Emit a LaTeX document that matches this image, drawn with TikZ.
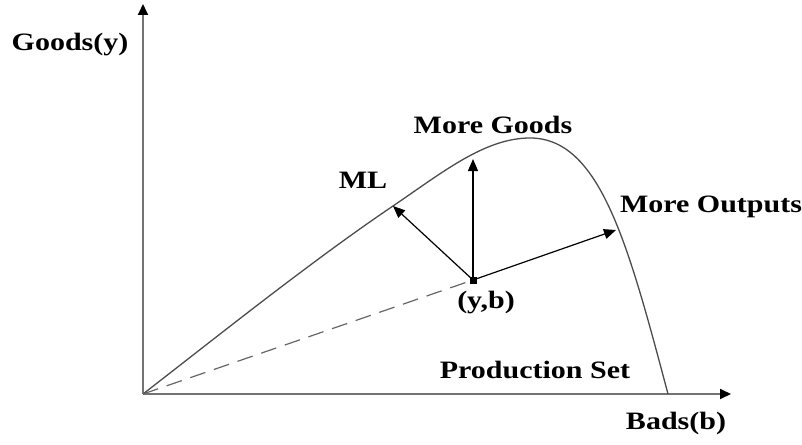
\documentclass[tikz,border=0pt]{standalone}
\usepackage{fontspec}
\setmainfont[FakeStretch=1.2]{Liberation Serif}
\usetikzlibrary{arrows.meta}

\begin{document}
\begin{tikzpicture}[x=1pt, y=-1pt,
    lbl/.style={font=\bfseries\fontsize{25}{30}\selectfont, anchor=base, inner sep=0pt},
    axis/.style={black!55, line width=1.8pt, -{Triangle[length=11pt, width=10pt, color=black]}},
    vec/.style={line width=1.2pt, -{Triangle[length=12pt, width=10pt]}}]
    \useasboundingbox (0,0) rectangle (802,444);

    % axes
    \coordinate (O) at (143,394);
    \coordinate (ytop) at (143,4);
    \coordinate (xend) at (731,394);
    \draw[axis] (O) -- (ytop);
    \draw[axis] (O) -- (xend);

    % production frontier
    \coordinate (peak) at (530,138);
    \coordinate (zero) at (668,394);
    \coordinate (ml) at (393,206);
    \draw[black!70, line width=1.3pt]
        (O) .. controls (223,332) and (313,260) .. (ml)
            .. controls (443,172) and (485,138) .. (peak)
            .. controls (600,138) and (628,243.6) .. (zero);

    % observed point and directions
    \coordinate (yb) at (473,280);
    \coordinate (mg) at (473,159);
    \coordinate (mo) at (616,230);
    \draw[black!60, line width=1.2pt, dash pattern=on 16pt off 9pt] (O) -- (yb);
    \draw[vec] (yb) -- (mg);
    \draw[vec] (yb) -- (ml);
    \draw[vec] (yb) -- (mo);
    \node[fill, inner sep=0pt, minimum size=7pt] (ybdot) at (yb) {};

    % labels
    \node[lbl] (goods) at (70,50) {Goods(y)};
    \node[lbl] (bads) at (676,429) {Bads(b)};
    \node[lbl] (moregoods) at (493,133) {More Goods};
    \node[lbl] (mlabel) at (363,188) {ML};
    \node[lbl] (moreout) at (711,212) {More Outputs};
    \node[lbl] (point) at (486,308) {(y,b)};
    \node[lbl] (prodset) at (535,378) {Production Set};
\end{tikzpicture}
\end{document}
